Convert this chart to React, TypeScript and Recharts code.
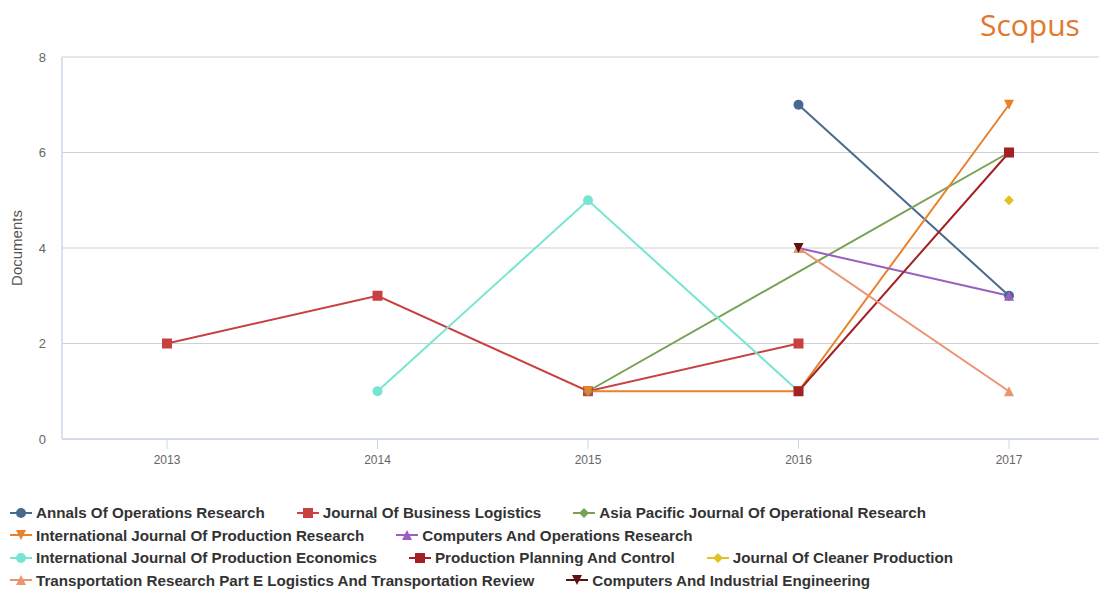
import { LineChart, Line, XAxis, YAxis, CartesianGrid } from 'recharts';

const YEARS = ['2013', '2014', '2015', '2016', '2017'];
const Y_TICKS = [0, 2, 4, 6, 8];

const ANNALS = [null, null, null, 7, 3];
const BUS_LOGISTICS = [2, 3, 1, 2, null];
const ASIA_PACIFIC = [null, null, 1, null, 6];
const IJPR = [null, null, 1, 1, 7];
const COMP_OR = [null, null, null, 4, 3];
const IJPE = [null, 1, 5, 1, null];
const PPC = [null, null, null, 1, 6];
const CLEANER = [null, null, null, null, 5];
const TRANSPORT_E = [null, null, null, 4, 1];
const COMP_IE = [null, null, null, 4, null];

type Shape = 'circle' | 'square' | 'diamond' | 'down' | 'up';

const SERIES: { key: string; name: string; color: string; shape: Shape; values: (number | null)[] }[] = [
  { key: 's0', name: 'Annals Of Operations Research', color: '#48698f', shape: 'circle', values: ANNALS },
  { key: 's1', name: 'Journal Of Business Logistics', color: '#c8403f', shape: 'square', values: BUS_LOGISTICS },
  { key: 's2', name: 'Asia Pacific Journal Of Operational Research', color: '#77a154', shape: 'diamond', values: ASIA_PACIFIC },
  { key: 's3', name: 'International Journal Of Production Research', color: '#e8822d', shape: 'down', values: IJPR },
  { key: 's4', name: 'Computers And Operations Research', color: '#9b5fc0', shape: 'up', values: COMP_OR },
  { key: 's5', name: 'International Journal Of Production Economics', color: '#77e4d4', shape: 'circle', values: IJPE },
  { key: 's6', name: 'Production Planning And Control', color: '#a32024', shape: 'square', values: PPC },
  { key: 's7', name: 'Journal Of Cleaner Production', color: '#e0c227', shape: 'diamond', values: CLEANER },
  { key: 's8', name: 'Transportation Research Part E Logistics And Transportation Review', color: '#eb9470', shape: 'up', values: TRANSPORT_E },
  { key: 's9', name: 'Computers And Industrial Engineering', color: '#5e1213', shape: 'down', values: COMP_IE },
];

const data = YEARS.map((year, i) => {
  const row: Record<string, string | number | null> = { year };
  SERIES.forEach(s => { row[s.key] = s.values[i]; });
  return row;
});

function marker(shape: Shape, cx: number, cy: number, color: string, r = 5) {
  switch (shape) {
    case 'circle':
      return <circle cx={cx} cy={cy} r={r} fill={color} />;
    case 'square':
      return <rect x={cx - r} y={cy - r} width={r * 2} height={r * 2} fill={color} />;
    case 'diamond':
      return <path d={`M${cx},${cy - r} L${cx + r},${cy} L${cx},${cy + r} L${cx - r},${cy} Z`} fill={color} />;
    case 'down':
      return <path d={`M${cx - r},${cy - r} L${cx + r},${cy - r} L${cx},${cy + r} Z`} fill={color} />;
    case 'up':
      return <path d={`M${cx},${cy - r} L${cx + r},${cy + r} L${cx - r},${cy + r} Z`} fill={color} />;
  }
}

export default function App() {
  return (
    <div style={{ position: 'absolute', left: 0, top: 0, width: 1099, height: 590, overflow: 'hidden', background: '#fff', fontFamily: '"Liberation Sans", Arial, sans-serif' }}>
      <div style={{ position: 'absolute', left: 980, top: 4, fontFamily: '"Open Sans", sans-serif', fontSize: 30, color: '#e2782b' }}>Scopus</div>
      <LineChart width={1114} height={480} data={data} margin={{ top: 57, right: 0, bottom: 11, left: 0 }}>
        <CartesianGrid horizontal vertical={false} stroke="#d0d0d0" strokeWidth={1.2} />
        <XAxis
          dataKey="year"
          padding={{ left: 105, right: 105 }}
          axisLine={{ stroke: '#ccd6eb', strokeWidth: 1.5 }}
          tickLine={{ stroke: '#ccd6eb' }}
          tickSize={10}
          tickMargin={6}
          tick={{ fill: '#666', fontSize: 12 }}
          height={30}
        />
        <YAxis
          domain={[0, 8]}
          ticks={Y_TICKS}
          width={62}
          axisLine={{ stroke: '#ccd6eb', strokeWidth: 1.5 }}
          tickLine={false}
          tickSize={0}
          tickMargin={16}
          tick={{ fill: '#666', fontSize: 13 }}
          label={{
            content: () => (
              <text x={18} y={248} transform="rotate(-90 18 248)" textAnchor="middle" dominantBaseline="middle" fill="#555" fontSize={15}>
                Documents
              </text>
            ),
          }}
        />
        {SERIES.map(s => (
          <Line
            key={s.key}
            dataKey={s.key}
            name={s.name}
            stroke={s.color}
            strokeWidth={2}
            connectNulls
            isAnimationActive={false}
            activeDot={false}
            dot={(p: any) => (
              <g key={`${s.key}-${p.index}`}>
                {p.value == null || p.cy == null ? null : marker(s.shape, p.cx, p.cy, s.color)}
              </g>
            )}
          />
        ))}
      </LineChart>
      <div style={{ position: 'absolute', left: 9, top: 503, width: 1040, display: 'flex', flexWrap: 'wrap', columnGap: 31, rowGap: 3.5 }}>
        {SERIES.map(s => (
          <div key={s.key} style={{ display: 'flex', alignItems: 'center', height: 19, fontSize: 15.2, fontWeight: 'bold', color: '#333' }}>
            <svg width={24} height={14} style={{ marginRight: 3 }}>
              <line x1={1} y1={7} x2={23} y2={7} stroke={s.color} strokeWidth={2} />
              {marker(s.shape, 12, 7, s.color, 5)}
            </svg>
            {s.name}
          </div>
        ))}
      </div>
    </div>
  );
}
